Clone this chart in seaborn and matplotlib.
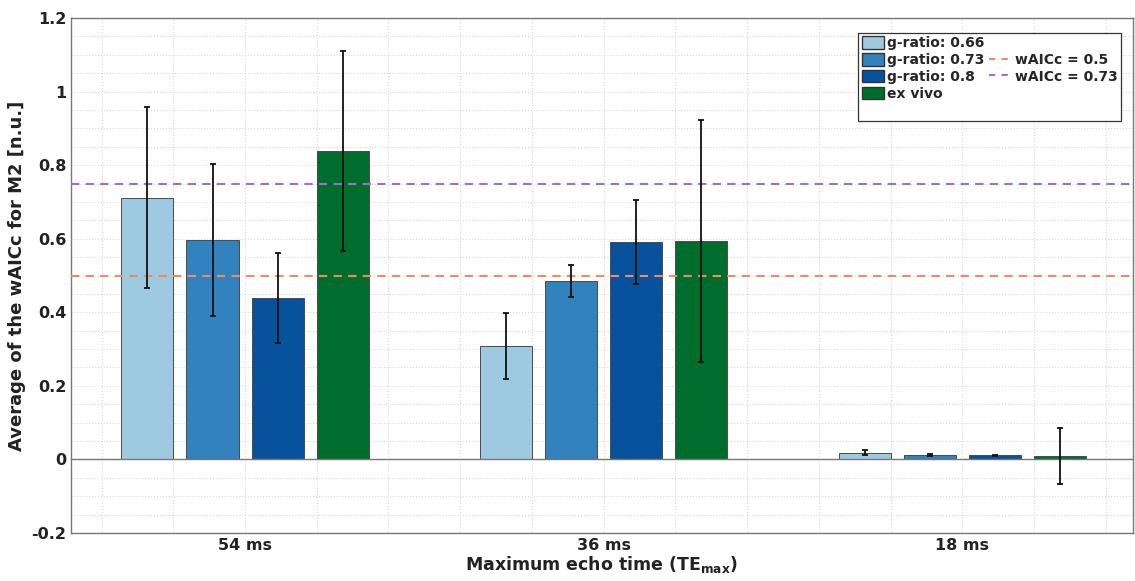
import numpy as np
import pandas as pd
import seaborn as sns
import matplotlib
matplotlib.use("Agg")
import matplotlib.pyplot as plt
from matplotlib.ticker import MultipleLocator
from matplotlib.lines import Line2D

categories = ["54 ms", "36 ms", "18 ms"]
groups = ["g-ratio: 0.66", "g-ratio: 0.73", "g-ratio: 0.8", "ex vivo"]
vals_066 = [0.711, 0.308, 0.018]
vals_073 = [0.597, 0.485, 0.013]
vals_080 = [0.439, 0.591, 0.011]
vals_exv = [0.839, 0.594, 0.009]
err_066 = [0.246, 0.089, 0.007]
err_073 = [0.207, 0.043, 0.003]
err_080 = [0.123, 0.114, 0.002]
err_exv = [0.272, 0.330, 0.076]
thresholds = [0.5, 0.75]
threshold_labels = ["wAICc = 0.5", "wAICc = 0.73"]

colors = ["#9ecae1", "#3182bd", "#08519c", "#006d2c"]
line_colors = ["#ef8a62", "#a36dc4"]

all_vals = [vals_066, vals_073, vals_080, vals_exv]
all_errs = [err_066, err_073, err_080, err_exv]
rows = []
for g, v in zip(groups, all_vals):
    for c, y in zip(categories, v):
        rows.append({"TE": c, "group": g, "val": y})
df = pd.DataFrame(rows)

sns.set_style("white")
plt.rcParams['font.family'] = ['DejaVu Sans']
plt.rcParams['font.weight'] = 'bold'

fig = plt.figure(figsize=(11.35, 5.81), dpi=100)
ax = fig.add_axes([0.0626, 0.0826, 0.9354, 0.8864])

sns.barplot(data=df, x="TE", y="val", hue="group", palette=colors, saturation=1,
            width=0.725, gap=0.2, errorbar=None, edgecolor="#4a4a4a",
            linewidth=0.7, ax=ax, legend=False, zorder=3)

for cont, errs in zip(ax.containers, all_errs):
    for patch, e in zip(cont.patches, errs):
        xc = patch.get_x() + patch.get_width() / 2
        ax.errorbar(xc, patch.get_height(), yerr=e, color="#111111", capsize=2.2,
                    elinewidth=1.3, capthick=1.3, zorder=5)

for t, lc in zip(thresholds, line_colors):
    ax.axhline(t, color=lc, linestyle=(0, (4, 3)), linewidth=1.5, zorder=4)
ax.axhline(0, color="#777777", linewidth=1.0, zorder=4)

ax.set_xlim(-0.485, 2.475)
ax.set_ylim(-0.2, 1.2)
ax.yaxis.set_minor_locator(MultipleLocator(0.05))
ax.xaxis.set_minor_locator(MultipleLocator(0.2))
ax.set_yticks([-0.2, 0, 0.2, 0.4, 0.6, 0.8, 1.0, 1.2])
ax.set_yticklabels(["-0.2", "0", "0.2", "0.4", "0.6", "0.8", "1", "1.2"])
ax.grid(True, which="both", color="#d8d8d8", linestyle=":", linewidth=0.8, zorder=0)
ax.set_axisbelow(True)
ax.tick_params(axis="both", which="major", direction="in", length=6, color="#555555",
               labelsize=11.5, width=0.8)
ax.tick_params(axis="both", which="minor", length=0)
for lab in ax.get_xticklabels() + ax.get_yticklabels():
    lab.set_fontweight("bold")
    lab.set_color("#222222")
for s in ax.spines.values():
    s.set_color("#777777")
    s.set_linewidth(1.0)

ax.set_xlabel("Maximum echo time (TE$_{\\mathbf{max}}$)", fontsize=12.5, fontweight="bold",
              color="#222222", labelpad=1)
ax.set_ylabel("Average of the wAICc for M2 [n.u.]", fontsize=13, fontweight="bold",
              color="#222222", labelpad=4)

blank = Line2D([], [], color="none")
handles = [plt.Rectangle((0, 0), 1, 1, facecolor=c, edgecolor="#333333") for c in colors]
handles += [blank, blank,
            Line2D([], [], color=line_colors[0], ls=(0, (3, 3)), lw=1.5),
            Line2D([], [], color=line_colors[1], ls=(0, (3, 3)), lw=1.5), blank, blank]
labels = groups + ["", "", threshold_labels[0], threshold_labels[1], "", ""]
leg = ax.legend(handles, labels, ncol=2, loc="upper right", bbox_to_anchor=(0.9887, 0.971),
                borderaxespad=0, frameon=True, fancybox=False, edgecolor="#333333", framealpha=1,
                prop={"weight": "bold", "size": 10}, handlelength=1.65, handleheight=1.0,
                handletextpad=0.2, columnspacing=0.3, labelspacing=0.2, borderpad=0.25)
leg.get_frame().set_linewidth(0.9)

fig.savefig("out.png", dpi=100)
